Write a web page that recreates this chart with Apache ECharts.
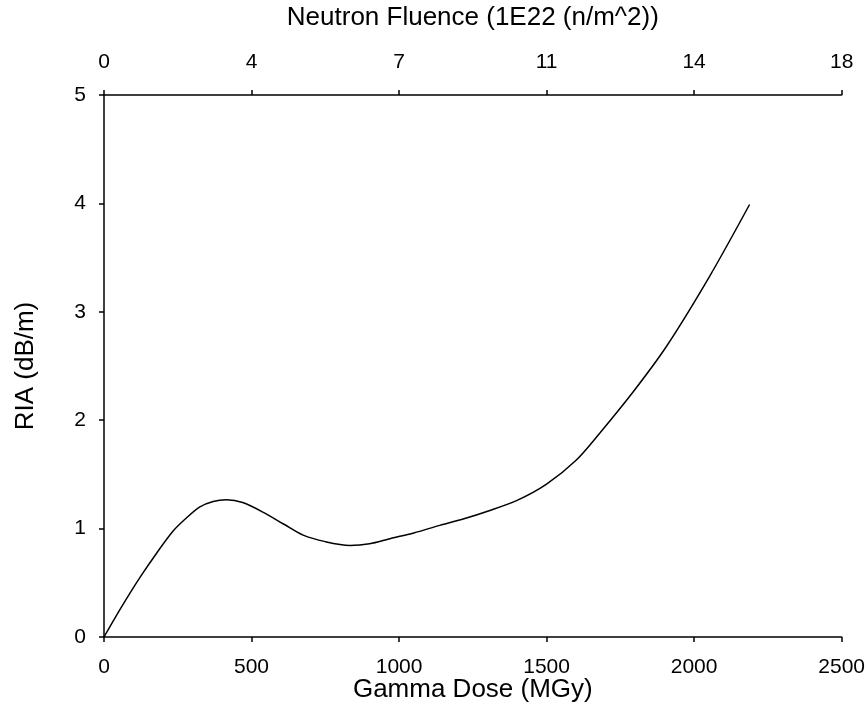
<!DOCTYPE html>
<html><head><meta charset="utf-8">
<script src="https://cdn.jsdelivr.net/npm/echarts@6/dist/echarts.min.js"></script>
<style>html,body{margin:0;padding:0;background:#fff}#c{width:868px;height:726px}</style>
</head><body><div id="c"></div>
<script>
var gammaDose = [0, 60, 122, 180, 235, 280, 325, 370, 415, 470, 540, 610, 675, 750, 833, 900, 969, 1050, 1138, 1220, 1300, 1400, 1500, 1600, 1680, 1793, 1906, 2053, 2188];
var ria = [0, 0.28, 0.55, 0.78, 0.98, 1.10, 1.20, 1.25, 1.265, 1.24, 1.15, 1.04, 0.94, 0.88, 0.845, 0.86, 0.907, 0.96, 1.03, 1.09, 1.16, 1.26, 1.41, 1.63, 1.88, 2.26, 2.68, 3.33, 3.99];
var fluenceLabels = ['0', '4', '7', '11', '14', '18'];

var font = 'Liberation Sans, Arial, sans-serif';
var axisLine = {show: true, onZero: false, lineStyle: {color: '#000', width: 1.5}};
var axisTick = {show: true, length: 5, lineStyle: {color: '#000', width: 1.5}};
var chart = echarts.init(document.getElementById('c'));
chart.setOption({
  animation: false,
  backgroundColor: '#fff',
  grid: {left: 104, right: 26, top: 93, bottom: 89, containLabel: false},
  xAxis: [{
    type: 'value', position: 'bottom', min: 0, max: 2500, interval: 500,
    name: 'Gamma Dose (MGy)', nameLocation: 'middle', nameGap: 40, nameMoveOverlap: false,
    nameTextStyle: {fontFamily: font, fontSize: 26, color: '#000'},
    axisLine: axisLine, axisTick: axisTick, splitLine: {show: false},
    axisLabel: {fontFamily: font, fontSize: 21, color: '#000', margin: 20,
      formatter: function (v) { return String(v); }}
  }, {
    type: 'value', position: 'top', min: 0, max: 2500, interval: 500,
    name: 'Neutron Fluence (1E22 (n/m^2))', nameLocation: 'middle', nameGap: 64, nameMoveOverlap: false,
    nameTextStyle: {fontFamily: font, fontSize: 26, color: '#000'},
    axisLine: axisLine, axisTick: axisTick, splitLine: {show: false},
    axisLabel: {fontFamily: font, fontSize: 21, color: '#000', margin: 22,
      formatter: function (v) { return fluenceLabels[Math.round(v / 500)]; }}
  }],
  yAxis: [{
    type: 'value', min: 0, max: 5, interval: 1,
    name: 'RIA (dB/m)', nameLocation: 'middle', nameGap: 65, nameRotate: 90, nameMoveOverlap: false,
    nameTextStyle: {fontFamily: font, fontSize: 26, color: '#000'},
    axisLine: axisLine, axisTick: axisTick, splitLine: {show: false},
    axisLabel: {fontFamily: font, fontSize: 21, color: '#000', margin: 18}
  }],
  series: [{
    type: 'line', xAxisIndex: 0, yAxisIndex: 0,
    data: gammaDose.map(function (x, i) { return [x, ria[i]]; }),
    smooth: 0.3, showSymbol: false, symbol: 'none',
    lineStyle: {color: '#000', width: 1.5}
  }]
});
</script></body></html>
